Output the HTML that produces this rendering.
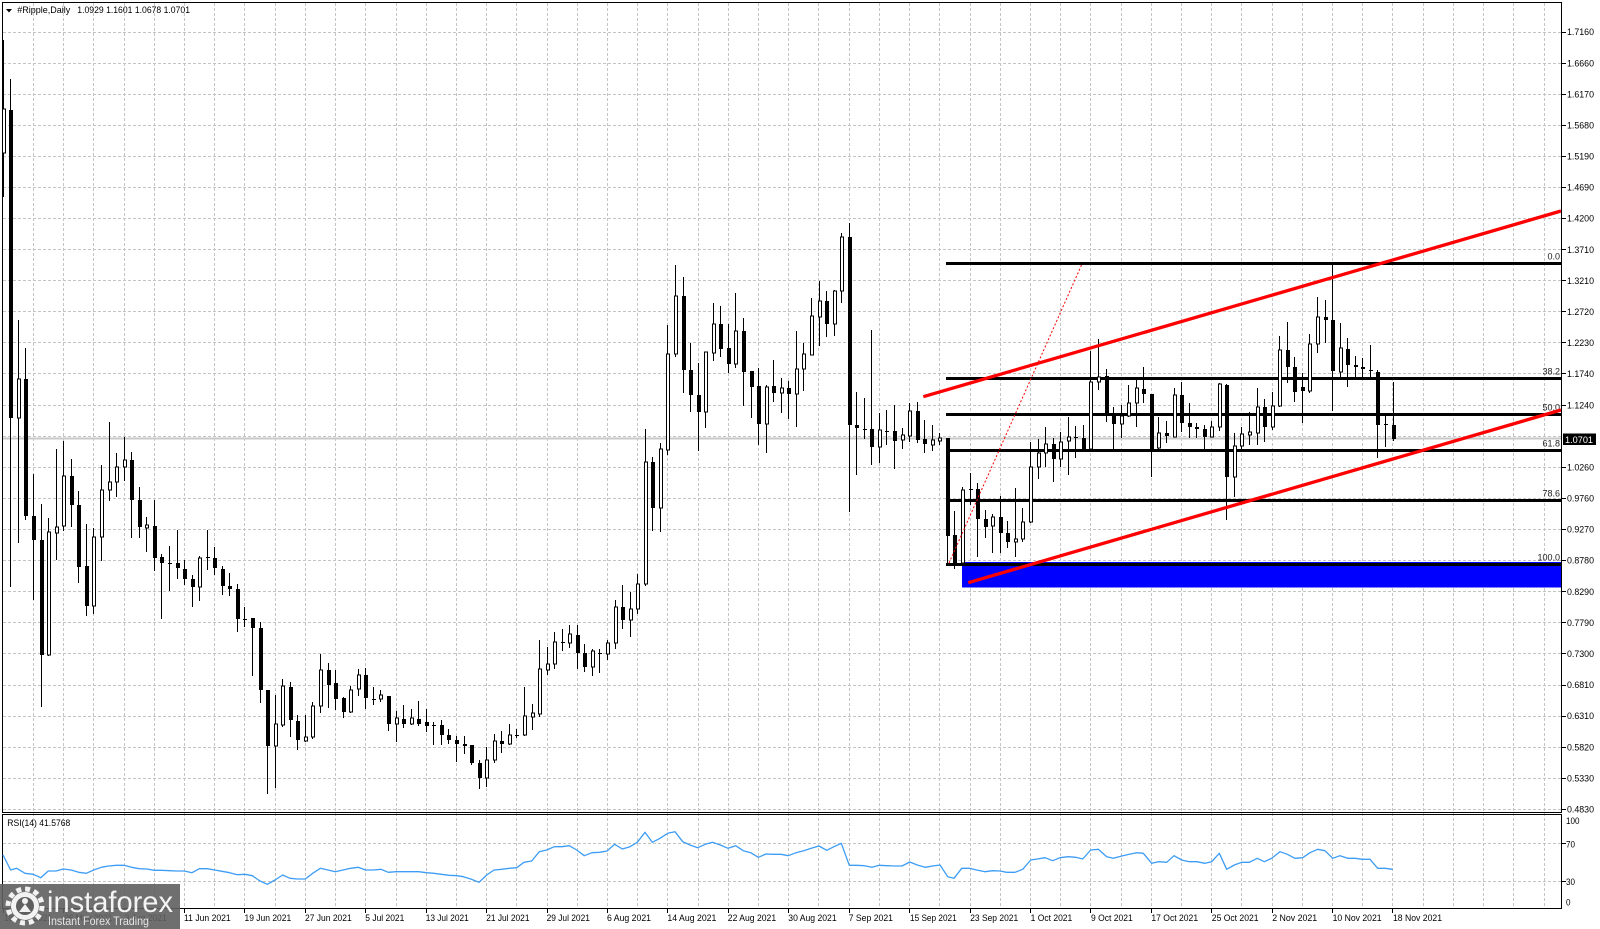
<!DOCTYPE html>
<html><head><meta charset="utf-8"><style>
html,body{margin:0;padding:0;background:#fff;}
svg{display:block;}
text{font-family:"Liberation Sans",Arial,sans-serif;}
</style></head><body>
<svg width="1600" height="929" viewBox="0 0 1600 929" xmlns="http://www.w3.org/2000/svg">
<defs><clipPath id="mc"><rect x="3" y="3" width="1559" height="809"/></clipPath></defs>
<rect width="1600" height="929" fill="#fff"/>
<!-- vertical grid -->
<path fill="none" stroke="#c4c4c4" stroke-width="1" stroke-dasharray="3,2" shape-rendering="crispEdges" d="M33.5 3V909M63.5 3V909M93.5 3V909M124.5 3V909M154.5 3V909M184.5 3V909M214.5 3V909M244.5 3V909M275.5 3V909M305.5 3V909M335.5 3V909M365.5 3V909M396.5 3V909M426.5 3V909M456.5 3V909M486.5 3V909M516.5 3V909M547.5 3V909M577.5 3V909M607.5 3V909M637.5 3V909M667.5 3V909M698.5 3V909M728.5 3V909M758.5 3V909M788.5 3V909M818.5 3V909M849.5 3V909M879.5 3V909M909.5 3V909M939.5 3V909M970.5 3V909M1000.5 3V909M1030.5 3V909M1060.5 3V909M1090.5 3V909M1121.5 3V909M1151.5 3V909M1181.5 3V909M1211.5 3V909M1241.5 3V909M1272.5 3V909M1302.5 3V909M1332.5 3V909M1362.5 3V909M1392.5 3V909M1423.5 3V909M1453.5 3V909M1483.5 3V909M1513.5 3V909M1544.5 3V909"/>
<!-- horizontal grid -->
<path fill="none" stroke="#c4c4c4" stroke-width="1" stroke-dasharray="3,2" shape-rendering="crispEdges" d="M3 32.5H1562M3 63.5H1562M3 94.5H1562M3 125.5H1562M3 156.5H1562M3 187.5H1562M3 218.5H1562M3 249.5H1562M3 280.5H1562M3 311.5H1562M3 342.5H1562M3 373.5H1562M3 405.5H1562M3 436.5H1562M3 467.5H1562M3 498.5H1562M3 529.5H1562M3 560.5H1562M3 591.5H1562M3 622.5H1562M3 653.5H1562M3 685.5H1562M3 716.5H1562M3 747.5H1562M3 778.5H1562M3 809.5H1562M3 843.5H1562M3 881.5H1562"/>
<!-- current price line -->
<rect x="3" y="437.5" width="1559" height="2" fill="#c8c8c8"/>
<!-- blue zone -->
<rect x="962" y="562" width="599" height="25.5" fill="#0000ff"/>
<rect x="962" y="587" width="599" height="1" fill="#8080ff"/>
<!-- fib lines -->
<g fill="#000" shape-rendering="crispEdges">
<rect x="946" y="262" width="615" height="3"/>
<rect x="946" y="377" width="615" height="3"/>
<rect x="946" y="413" width="615" height="3"/>
<rect x="946" y="449" width="615" height="3"/>
<rect x="946" y="499" width="615" height="3"/>
<rect x="946" y="563" width="615" height="3"/>
</g>
<g font-size="9" fill="#222" text-anchor="end">
<text x="1560" y="259.5">0.0</text>
<text x="1560" y="374.5">38.2</text>
<text x="1560" y="410.5">50.0</text>
<text x="1560" y="446.5">61.8</text>
<text x="1560" y="496.5">78.6</text>
<text x="1560" y="560.5">100.0</text>
</g>
<!-- candles -->
<g clip-path="url(#mc)" shape-rendering="crispEdges">
<path fill="none" stroke="#000" stroke-width="1" d="M3.5 40V197M10.5 79V587M18.5 320V543M25.5 348V520M33.5 474V600M41.5 504V707M48.5 518V656M56.5 449V560M63.5 441V531M71.5 459V527M78.5 491V583M86.5 524V616M93.5 528V614M101.5 465V561M109.5 422V501M116.5 453V497M124.5 437V481M131.5 452V538M139.5 487V538M146.5 517V552M154.5 500V571M161.5 554V619M169.5 546V591M177.5 530V579M184.5 560V585M192.5 575V607M199.5 556V601M207.5 530V570M214.5 547V575M222.5 566V595M229.5 573V596M237.5 584V632M244.5 607V627M252.5 618V676M260.5 622V703M267.5 690V794M275.5 695V788M282.5 679V727M290.5 682V737M297.5 715V750M305.5 715V742M312.5 702V739M320.5 654V713M328.5 663V708M335.5 670V710M343.5 697V718M350.5 686V713M358.5 669V696M365.5 668V709M373.5 687V705M380.5 690V702M388.5 696V731M396.5 711V742M403.5 705V728M411.5 709V725M418.5 701V726M426.5 709V732M433.5 722V745M441.5 720V745M448.5 729V744M456.5 736V762M464.5 736V754M471.5 745V765M479.5 760V789M486.5 747V787M494.5 734V763M501.5 731V753M509.5 724V745M516.5 729V738M524.5 687V736M532.5 704V730M539.5 640V717M547.5 647V675M554.5 632V669M562.5 629V651M569.5 625V648M577.5 625V669M584.5 644V672M592.5 649V676M599.5 649V673M607.5 640V660M615.5 600V649M622.5 585V629M630.5 592V637M637.5 574V614M645.5 429V586M652.5 457V531M660.5 443V532M667.5 325V455M675.5 265V357M683.5 277V393M690.5 343V412M698.5 363V451M705.5 352V428M713.5 303V361M720.5 306V357M728.5 324V373M735.5 293V368M743.5 318V406M751.5 371V418M758.5 368V445M766.5 385V453M773.5 360V402M781.5 378V413M788.5 381V419M796.5 331V427M803.5 343V391M811.5 298V355M819.5 281V346M826.5 291V337M834.5 290V336M841.5 233V303M849.5 223V512M856.5 392V475M864.5 398V439M871.5 330V465M879.5 413V463M886.5 410V445M894.5 405V469M902.5 428V449M909.5 403V442M917.5 402V443M924.5 420V453M932.5 425V451M939.5 433V445M947.5 438V565M954.5 511V569M962.5 487V563M970.5 473V505M977.5 483V557M985.5 510V538M992.5 514V553M1000.5 496V553M1007.5 521V548M1015.5 488V557M1022.5 508V542M1030.5 442V523M1038.5 439V479M1045.5 427V467M1053.5 438V482M1060.5 432V467M1068.5 417V475M1075.5 426V458M1083.5 425V449M1090.5 351V450M1098.5 339V390M1106.5 369V422M1113.5 407V450M1121.5 405V438M1128.5 385V417M1136.5 380V427M1143.5 367V403M1151.5 394V477M1158.5 417V449M1166.5 421V443M1174.5 388V437M1181.5 382V432M1189.5 403V438M1196.5 423V438M1204.5 425V452M1211.5 421V437M1219.5 383V431M1226.5 384V520M1234.5 433V497M1241.5 427V452M1249.5 412V445M1257.5 388V445M1264.5 399V442M1272.5 392V430M1279.5 336V407M1287.5 322V383M1294.5 357V402M1302.5 373V423M1309.5 334V393M1317.5 297V353M1325.5 300V343M1332.5 263V411M1340.5 323V377M1347.5 338V387M1355.5 356V377M1362.5 358V377M1370.5 345V380M1377.5 370V458M1385.5 413V447M1393.5 382V441"/>
<path fill="#fff" stroke="#000" stroke-width="1" d="M2.5 109h3V153h-3zM17.5 379h3V418h-3zM47.5 532h3V655h-3zM55.5 527h3V533h-3zM62.5 476h3V526h-3zM92.5 537h3V606h-3zM100.5 490h3V537h-3zM108.5 482h3V490h-3zM115.5 467h3V482h-3zM123.5 460h3V467h-3zM145.5 525h3V528h-3zM198.5 558h3V587h-3zM274.5 724h3V746h-3zM281.5 686h3V725h-3zM304.5 737h3V741h-3zM311.5 706h3V737h-3zM319.5 670h3V706h-3zM349.5 690h3V712h-3zM357.5 675h3V689h-3zM379.5 695h3V699h-3zM395.5 718h3V724h-3zM410.5 718h3V724h-3zM485.5 760h3V778h-3zM493.5 741h3V760h-3zM508.5 735h3V744h-3zM523.5 716h3V735h-3zM531.5 713h3V717h-3zM538.5 669h3V714h-3zM546.5 664h3V670h-3zM553.5 642h3V664h-3zM568.5 634h3V643h-3zM591.5 651h3V667h-3zM606.5 643h3V654h-3zM614.5 607h3V643h-3zM629.5 609h3V620h-3zM636.5 584h3V609h-3zM644.5 462h3V584h-3zM659.5 449h3V508h-3zM666.5 354h3V450h-3zM674.5 296h3V354h-3zM704.5 352h3V412h-3zM712.5 324h3V353h-3zM734.5 331h3V364h-3zM765.5 387h3V424h-3zM780.5 388h3V393h-3zM795.5 369h3V394h-3zM802.5 354h3V369h-3zM810.5 316h3V355h-3zM818.5 301h3V317h-3zM833.5 291h3V324h-3zM840.5 237h3V291h-3zM878.5 430h3V447h-3zM901.5 435h3V440h-3zM908.5 411h3V436h-3zM931.5 440h3V445h-3zM938.5 438h3V441h-3zM961.5 490h3V563h-3zM991.5 517h3V526h-3zM1014.5 539h3V542h-3zM1021.5 522h3V539h-3zM1029.5 467h3V522h-3zM1037.5 453h3V467h-3zM1044.5 444h3V453h-3zM1059.5 442h3V459h-3zM1067.5 437h3V441h-3zM1089.5 382h3V449h-3zM1097.5 377h3V382h-3zM1120.5 416h3V424h-3zM1127.5 403h3V416h-3zM1135.5 388h3V403h-3zM1157.5 433h3V448h-3zM1173.5 395h3V437h-3zM1210.5 427h3V437h-3zM1218.5 384h3V427h-3zM1233.5 446h3V477h-3zM1240.5 434h3V446h-3zM1248.5 432h3V435h-3zM1256.5 407h3V433h-3zM1271.5 406h3V427h-3zM1278.5 350h3V406h-3zM1308.5 344h3V391h-3zM1316.5 317h3V344h-3zM1339.5 348h3V372h-3z"/>
<path fill="#000" d="M9 110h4V418h-4zM24 379h4V516h-4zM32 516h4V540h-4zM40 540h4V655h-4zM70 476h4V505h-4zM77 505h4V567h-4zM85 566h4V606h-4zM130 460h4V500h-4zM138 500h4V527h-4zM153 526h4V558h-4zM160 557h4V563h-4zM168 563h4V564h-4zM176 563h4V568h-4zM183 569h4V579h-4zM191 579h4V587h-4zM206 557h4V558h-4zM213 558h4V568h-4zM221 569h4V586h-4zM228 586h4V589h-4zM236 589h4V619h-4zM243 619h4V620h-4zM251 618h4V628h-4zM259 628h4V690h-4zM266 690h4V746h-4zM289 687h4V720h-4zM296 721h4V740h-4zM327 670h4V685h-4zM334 683h4V699h-4zM342 698h4V712h-4zM364 675h4V698h-4zM372 699h4V700h-4zM387 696h4V724h-4zM402 719h4V724h-4zM417 719h4V724h-4zM425 722h4V726h-4zM432 725h4V726h-4zM440 725h4V735h-4zM447 735h4V740h-4zM455 740h4V744h-4zM463 744h4V746h-4zM470 745h4V763h-4zM478 763h4V778h-4zM500 741h4V744h-4zM515 735h4V736h-4zM561 642h4V643h-4zM576 635h4V653h-4zM583 653h4V667h-4zM598 653h4V654h-4zM621 607h4V620h-4zM651 462h4V508h-4zM682 296h4V370h-4zM689 370h4V395h-4zM697 395h4V412h-4zM719 324h4V349h-4zM727 348h4V364h-4zM742 331h4V372h-4zM750 371h4V387h-4zM757 386h4V424h-4zM772 386h4V393h-4zM787 388h4V394h-4zM825 301h4V324h-4zM848 237h4V425h-4zM855 425h4V428h-4zM863 429h4V430h-4zM870 429h4V447h-4zM885 431h4V432h-4zM893 431h4V441h-4zM916 411h4V440h-4zM923 439h4V444h-4zM946 438h4V536h-4zM953 535h4V563h-4zM969 489h4V490h-4zM976 489h4V519h-4zM984 519h4V527h-4zM999 517h4V533h-4zM1006 533h4V542h-4zM1052 444h4V459h-4zM1074 437h4V438h-4zM1082 438h4V449h-4zM1105 376h4V413h-4zM1112 413h4V424h-4zM1142 389h4V394h-4zM1150 394h4V449h-4zM1165 433h4V436h-4zM1180 395h4V423h-4zM1188 423h4V427h-4zM1195 427h4V429h-4zM1203 429h4V437h-4zM1225 385h4V477h-4zM1263 407h4V427h-4zM1286 350h4V367h-4zM1293 367h4V392h-4zM1301 387h4V391h-4zM1324 317h4V320h-4zM1331 320h4V371h-4zM1346 349h4V365h-4zM1354 365h4V367h-4zM1361 367h4V369h-4zM1369 370h4V371h-4zM1376 372h4V425h-4zM1384 424h4V425h-4zM1392 425h4V439h-4z"/>
</g>
<!-- red trend lines -->
<g clip-path="url(#mc)">
<line x1="923.3" y1="396.7" x2="1561" y2="211" stroke="#ff0000" stroke-width="3.3"/>
<line x1="968.3" y1="582.7" x2="1561" y2="410" stroke="#ff0000" stroke-width="3.3"/>
<line x1="949" y1="563" x2="1082" y2="264" stroke="#ff0000" stroke-width="1" stroke-dasharray="2,2"/>
</g>
<!-- frames -->
<g fill="none" stroke="#000" stroke-width="1" shape-rendering="crispEdges">
<rect x="2.5" y="2.5" width="1559" height="810"/>
<rect x="2.5" y="814.5" width="1559" height="94"/>
</g>
<!-- price axis ticks -->
<path stroke="#000" stroke-width="1" shape-rendering="crispEdges" d="M1562 32.5h4M1562 63.5h4M1562 94.5h4M1562 125.5h4M1562 156.5h4M1562 187.5h4M1562 218.5h4M1562 249.5h4M1562 280.5h4M1562 311.5h4M1562 342.5h4M1562 373.5h4M1562 405.5h4M1562 467.5h4M1562 498.5h4M1562 529.5h4M1562 560.5h4M1562 591.5h4M1562 622.5h4M1562 653.5h4M1562 685.5h4M1562 716.5h4M1562 747.5h4M1562 778.5h4M1562 809.5h4M1562 843.5h4M1562 881.5h4"/>
<g font-size="9.5" fill="#000">
<text x="1567" y="35.2" textLength="27" lengthAdjust="spacingAndGlyphs">1.7160</text>
<text x="1567" y="66.3" textLength="27" lengthAdjust="spacingAndGlyphs">1.6660</text>
<text x="1567" y="97.4" textLength="27" lengthAdjust="spacingAndGlyphs">1.6170</text>
<text x="1567" y="128.5" textLength="27" lengthAdjust="spacingAndGlyphs">1.5680</text>
<text x="1567" y="159.6" textLength="27" lengthAdjust="spacingAndGlyphs">1.5190</text>
<text x="1567" y="190.7" textLength="27" lengthAdjust="spacingAndGlyphs">1.4690</text>
<text x="1567" y="221.7" textLength="27" lengthAdjust="spacingAndGlyphs">1.4200</text>
<text x="1567" y="252.8" textLength="27" lengthAdjust="spacingAndGlyphs">1.3710</text>
<text x="1567" y="283.9" textLength="27" lengthAdjust="spacingAndGlyphs">1.3210</text>
<text x="1567" y="315" textLength="27" lengthAdjust="spacingAndGlyphs">1.2720</text>
<text x="1567" y="346.1" textLength="27" lengthAdjust="spacingAndGlyphs">1.2230</text>
<text x="1567" y="377.2" textLength="27" lengthAdjust="spacingAndGlyphs">1.1740</text>
<text x="1567" y="408.3" textLength="27" lengthAdjust="spacingAndGlyphs">1.1240</text>
<text x="1567" y="470.5" textLength="27" lengthAdjust="spacingAndGlyphs">1.0260</text>
<text x="1567" y="501.6" textLength="27" lengthAdjust="spacingAndGlyphs">0.9760</text>
<text x="1567" y="532.6" textLength="27" lengthAdjust="spacingAndGlyphs">0.9270</text>
<text x="1567" y="563.7" textLength="27" lengthAdjust="spacingAndGlyphs">0.8780</text>
<text x="1567" y="594.8" textLength="27" lengthAdjust="spacingAndGlyphs">0.8290</text>
<text x="1567" y="625.9" textLength="27" lengthAdjust="spacingAndGlyphs">0.7790</text>
<text x="1567" y="657" textLength="27" lengthAdjust="spacingAndGlyphs">0.7300</text>
<text x="1567" y="688.1" textLength="27" lengthAdjust="spacingAndGlyphs">0.6810</text>
<text x="1567" y="719.2" textLength="27" lengthAdjust="spacingAndGlyphs">0.6310</text>
<text x="1567" y="750.3" textLength="27" lengthAdjust="spacingAndGlyphs">0.5820</text>
<text x="1567" y="781.4" textLength="27" lengthAdjust="spacingAndGlyphs">0.5330</text>
<text x="1567" y="812.5" textLength="27" lengthAdjust="spacingAndGlyphs">0.4830</text>
<text x="1566" y="824" textLength="13.5" lengthAdjust="spacingAndGlyphs">100</text>
<text x="1566" y="847.3" textLength="9" lengthAdjust="spacingAndGlyphs">70</text>
<text x="1566" y="885" textLength="9" lengthAdjust="spacingAndGlyphs">30</text>
<text x="1566" y="905.7" textLength="4.5" lengthAdjust="spacingAndGlyphs">0</text>
</g>
<!-- current price box -->
<rect x="1563" y="433.5" width="33" height="11.5" fill="#000"/>
<text x="1565" y="442.8" font-size="9.5" fill="#fff" textLength="28" lengthAdjust="spacingAndGlyphs">1.0701</text>
<!-- title -->
<polygon points="6,9 12,9 9,12.5" fill="#000"/>
<text x="17.3" y="13" font-size="9.5" fill="#000" textLength="53" lengthAdjust="spacingAndGlyphs">#Ripple,Daily</text>
<text x="77.3" y="13" font-size="9.5" fill="#000" textLength="112.7" lengthAdjust="spacingAndGlyphs">1.0929 1.1601 1.0678 1.0701</text>
<!-- RSI -->
<text x="7.3" y="826" font-size="9.5" fill="#000" textLength="63" lengthAdjust="spacingAndGlyphs">RSI(14) 41.5768</text>
<polyline fill="none" stroke="#3d9df5" stroke-width="1.3" stroke-linejoin="round" points="3,855 10.7,870 16.7,868.3 25,873.3 33.3,874.3 40.7,877.7 48.3,871 56,871 63.3,869 71,870 78.7,872.3 86.3,873.3 93.7,870 101.3,867.3 108.7,866 116.3,865.3 124,865.3 131.7,867.3 139,868.7 146.7,869 154.3,870.3 161.7,870.3 169.3,870.7 177,871 184.3,871 192,872.7 199.3,868.7 207,868.7 214.7,870 222,871.3 229.7,872.7 237.3,874.7 245,874.3 252.3,875.7 260,881 267.3,884.3 275,880 282.7,875 290,878.3 297.7,879 305.3,879 312.7,873.3 320.3,868.3 328,870 335.3,871.7 343,870 350.7,868.3 358,867.3 365.7,870 373.3,870 381,869.3 388.3,872.3 396,871.7 403.7,871.7 411.3,871.7 418.7,871.7 426.3,872.7 434,873.3 441.3,874.3 449,875.3 456.7,875.7 463.3,876.7 470.7,879 479,882.3 486.7,875 494,870 501.7,869.3 509.3,868.3 516.7,867.7 524,862.3 531.7,861 539.3,851.7 546.7,850 554.3,846.7 562,846.7 569.3,845.7 576.7,850 584.3,855.7 592,852.7 599.7,852.3 607,851 614.7,844.3 622.3,849 630,846.7 637.3,842.3 645,832.3 652.3,842.3 660,838.3 667.7,833.3 675,831.7 682.7,841.7 690,845 697.7,847.7 705.3,844.3 712.7,842.3 720.3,845 728,848.3 735.7,845.7 743.3,850.7 750.7,852.7 758.3,857.3 766,854 773.3,854.3 781,854.3 788.3,855.7 796,852.7 803.7,850.7 811.3,848.3 819,846 826.7,850.3 834,846.7 841.3,843.3 849.3,865.3 856.7,865.3 864.3,865.7 872,867.3 879.3,865.3 887,865.7 894.3,866 902,866 909.7,862 917.3,865 925,867.3 932.7,866 940,865 947.7,876.7 954,878.3 961.7,868.3 969.3,868.3 976.7,870 985,871.7 992.7,870.7 1000,871 1006.7,872.3 1015,872.3 1022.7,869.3 1030.7,860 1037.3,859 1045,857.7 1052.7,860.7 1060,857.7 1068.3,856.7 1075.7,857.3 1082.7,859 1090.7,850 1098.3,849.3 1106.7,856.7 1113.3,858.3 1121.7,856 1129.3,854.3 1136.7,852.7 1143.3,853.3 1151.7,863.3 1158.3,861.7 1166.7,862.3 1174,855.7 1181.7,860 1189.3,861.7 1196.7,861.7 1205,863.3 1211.7,861.7 1219.3,853.3 1226.7,869.3 1234.3,865 1241.7,862.3 1249.3,862.3 1257.3,858.3 1264.3,861.7 1271.7,858.3 1280,851.7 1287.3,854.3 1295,858.3 1302.7,857.7 1310,852.7 1317.7,849.3 1325,850.7 1332.7,858.3 1340,855.7 1347.7,858.3 1355,858.3 1362.7,859.3 1370,859.3 1377.7,868.3 1385,868.3 1392.7,869.3"/>
<!-- date ticks -->
<path stroke="#000" stroke-width="1" shape-rendering="crispEdges" d="M3.5 909v4M63.5 909v4M124.5 909v4M184.5 909v4M244.5 909v4M305.5 909v4M365.5 909v4M426.5 909v4M486.5 909v4M547.5 909v4M607.5 909v4M667.5 909v4M728.5 909v4M788.5 909v4M849.5 909v4M909.5 909v4M970.5 909v4M1030.5 909v4M1090.5 909v4M1151.5 909v4M1211.5 909v4M1272.5 909v4M1332.5 909v4M1392.5 909v4"/>
<g font-size="9.5" fill="#000">
<text x="4" y="921" textLength="48" lengthAdjust="spacingAndGlyphs">18 May 2021</text>
<text x="64.2" y="921" textLength="48" lengthAdjust="spacingAndGlyphs">26 May 2021</text>
<text x="124.6" y="921" textLength="42" lengthAdjust="spacingAndGlyphs">3 Jun 2021</text>
<text x="184" y="921" textLength="46.7" lengthAdjust="spacingAndGlyphs">11 Jun 2021</text>
<text x="244.5" y="921" textLength="46.7" lengthAdjust="spacingAndGlyphs">19 Jun 2021</text>
<text x="305" y="921" textLength="46.7" lengthAdjust="spacingAndGlyphs">27 Jun 2021</text>
<text x="365.3" y="921" textLength="39" lengthAdjust="spacingAndGlyphs">5 Jul 2021</text>
<text x="425.7" y="921" textLength="43" lengthAdjust="spacingAndGlyphs">13 Jul 2021</text>
<text x="486.2" y="921" textLength="43.3" lengthAdjust="spacingAndGlyphs">21 Jul 2021</text>
<text x="546.6" y="921" textLength="43.3" lengthAdjust="spacingAndGlyphs">29 Jul 2021</text>
<text x="607" y="921" textLength="44" lengthAdjust="spacingAndGlyphs">6 Aug 2021</text>
<text x="667.4" y="921" textLength="49" lengthAdjust="spacingAndGlyphs">14 Aug 2021</text>
<text x="727.8" y="921" textLength="48.3" lengthAdjust="spacingAndGlyphs">22 Aug 2021</text>
<text x="788.3" y="921" textLength="48.3" lengthAdjust="spacingAndGlyphs">30 Aug 2021</text>
<text x="848.7" y="921" textLength="44.3" lengthAdjust="spacingAndGlyphs">7 Sep 2021</text>
<text x="910" y="921" textLength="46.7" lengthAdjust="spacingAndGlyphs">15 Sep 2021</text>
<text x="970.2" y="921" textLength="48" lengthAdjust="spacingAndGlyphs">23 Sep 2021</text>
<text x="1030.6" y="921" textLength="41.7" lengthAdjust="spacingAndGlyphs">1 Oct 2021</text>
<text x="1091" y="921" textLength="41.7" lengthAdjust="spacingAndGlyphs">9 Oct 2021</text>
<text x="1151.4" y="921" textLength="46.7" lengthAdjust="spacingAndGlyphs">17 Oct 2021</text>
<text x="1211.8" y="921" textLength="46.7" lengthAdjust="spacingAndGlyphs">25 Oct 2021</text>
<text x="1272.2" y="921" textLength="45" lengthAdjust="spacingAndGlyphs">2 Nov 2021</text>
<text x="1332.6" y="921" textLength="49" lengthAdjust="spacingAndGlyphs">10 Nov 2021</text>
<text x="1393" y="921" textLength="49" lengthAdjust="spacingAndGlyphs">18 Nov 2021</text>
</g>
<!-- instaforex logo -->
<rect x="0" y="884" width="180" height="45" fill="#5f5f5f" fill-opacity="0.9"/>
<g fill="#f2f2f2">
<circle cx="25" cy="906" r="17" fill="none" stroke="#f2f2f2" stroke-width="5" stroke-dasharray="5,3.9"/>
<circle cx="25" cy="906" r="14"/>
<circle cx="25" cy="906" r="9" fill="#5f5f5f"/>
<circle cx="25" cy="901" r="3"/>
<path d="M19 912 L25 904 L31 912 Z"/>
</g>
<text x="47" y="912" font-size="30" fill="#f4f4f4" textLength="126" lengthAdjust="spacingAndGlyphs">instaforex</text>
<text x="48" y="925" font-size="12" fill="#e6e6e6" textLength="101" lengthAdjust="spacingAndGlyphs">Instant Forex Trading</text>
</svg>
</body></html>
